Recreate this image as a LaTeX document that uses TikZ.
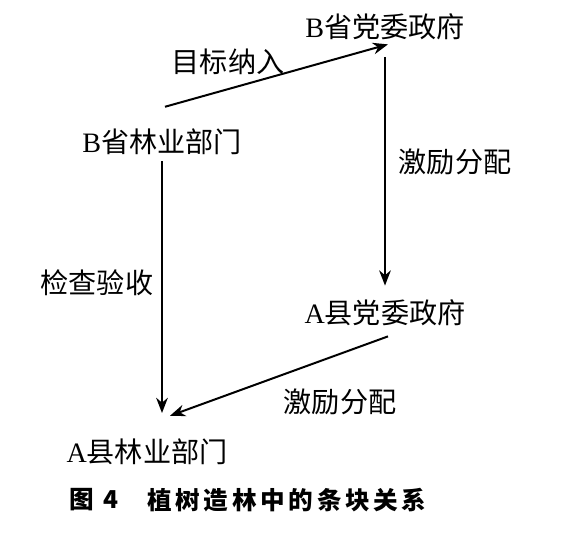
\documentclass[tikz,border=0pt]{standalone}
\usepackage{fontspec}
\setmainfont{Liberation Serif}
\newfontfamily\cjk{Noto Sans CJK SC}
\newfontfamily\capfont[LetterSpace=15]{Noto Sans CJK SC}
\usetikzlibrary{arrows.meta, positioning, calc}

\begin{document}
\begin{tikzpicture}[
  x=0.03cm, y=0.03cm,
  txt/.style={inner sep=0pt, font=\fontsize{24}{28}\selectfont},
  captxt/.style={inner sep=0pt, font=\capfont\bfseries\fontsize{21}{26}\selectfont},
  arr/.style={-{Stealth[length=13pt, width=10pt]}, line width=1.7pt}
]
  \useasboundingbox (0,0) rectangle (578,-539);

  % units
  \node[txt] (bgov)  at (385,-27)  {B{\cjk 省党委政府}};
  \node[txt] (bdept) at (162,-142) {B{\cjk 省林业部门}};
  \node[txt] (agov)  at (385,-313) {A{\cjk 县党委政府}};
  \node[txt] (adept) at (147,-452) {A{\cjk 县林业部门}};

  % labels
  \node[txt] (mubiao) at (228,-62)  {\cjk 目标纳入};
  \node[txt] (jili1)  at (455,-162) {\cjk 激励分配};
  \node[txt] (jiancha) at (97,-283) {\cjk 检查验收};
  \node[txt] (jili2)  at (340,-402) {\cjk 激励分配};

  % arrows
  \draw[arr] ([shift={(3,22)}]bdept.north) -- ([shift={(3,-4)}]bgov.south);
  \draw[arr] ([yshift=-14]bgov.south) -- ([yshift=12]agov.north);
  \draw[arr] ([yshift=-5]bdept.south) -- ([yshift=22]bdept.south |- adept.north);
  \draw[arr] ([shift={(3,-10)}]agov.south) -- ([shift={(23,23)}]adept.north);

  % caption
  \node[captxt] (fig)  at (94,-500)  {图 4};
  \node[captxt] (capt) at (287,-500) {植树造林中的条块关系};
\end{tikzpicture}
\end{document}
